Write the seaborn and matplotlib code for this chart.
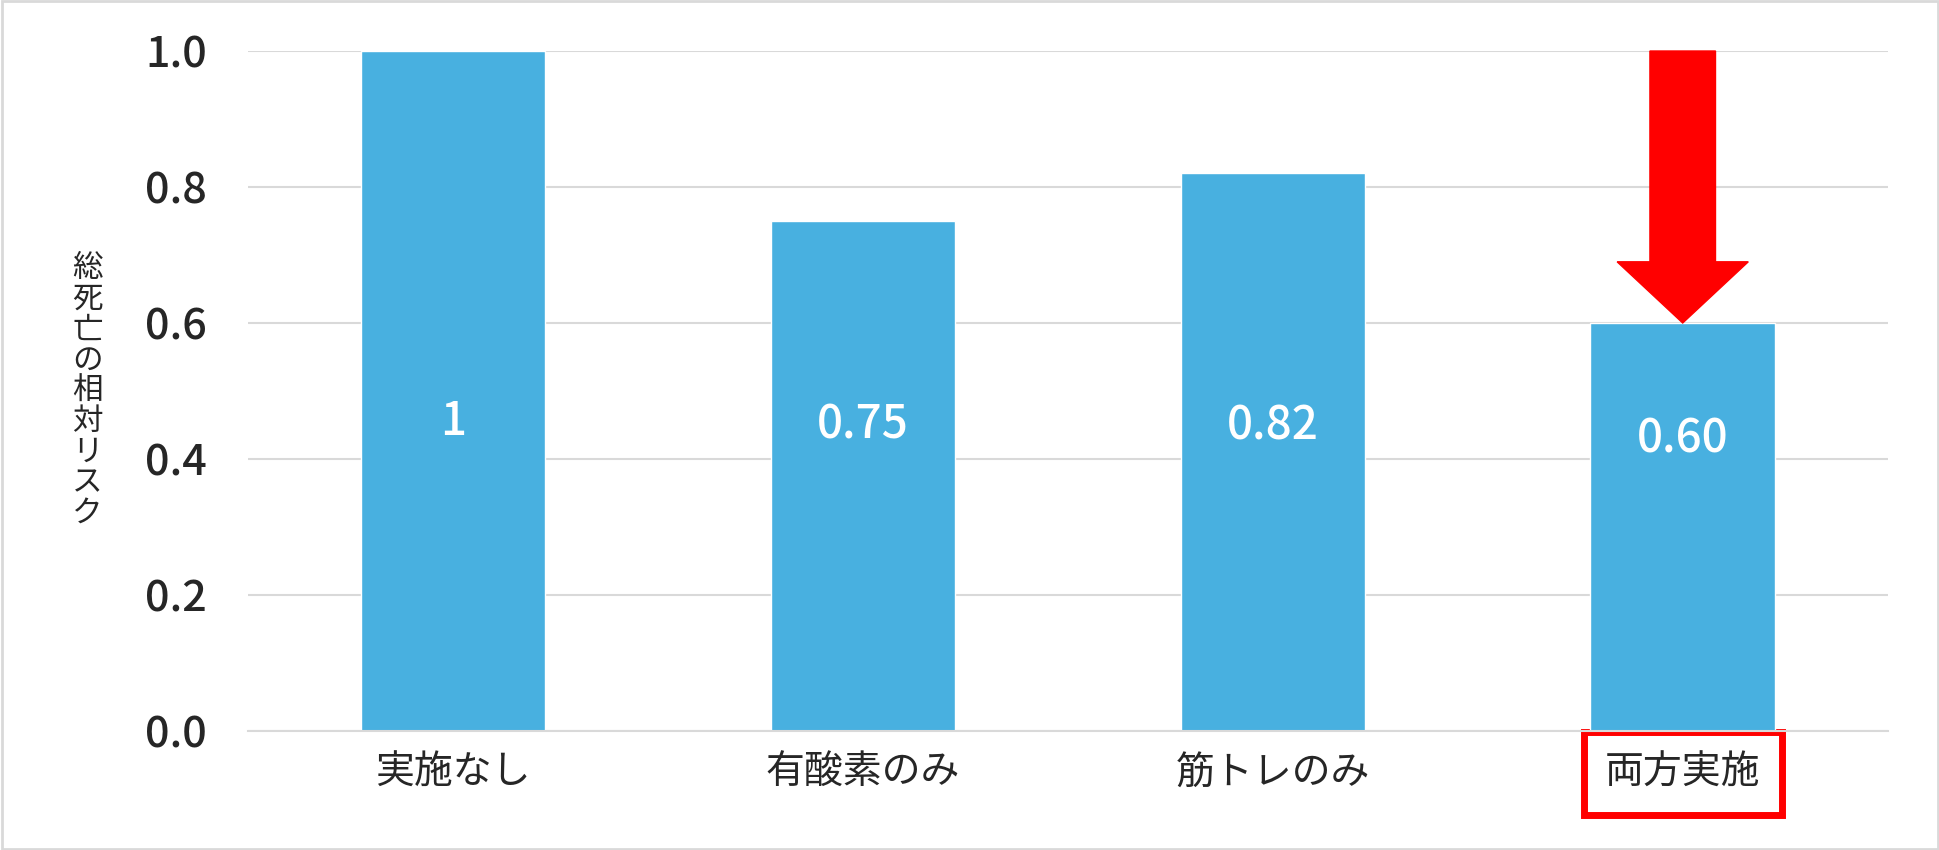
import matplotlib
matplotlib.use("Agg")
import matplotlib.pyplot as plt
import seaborn as sns
import pandas as pd

categories = ["実施なし", "有酸素のみ", "筋トレのみ", "両方実施"]
values = [1.0, 0.75, 0.82, 0.60]
value_labels = ["1", "0.75", "0.82", "0.60"]
label_y = [0.455, 0.45, 0.448, 0.43]
yticks = [0.0, 0.2, 0.4, 0.6, 0.8, 1.0]
ylabel = "総死亡の相対リスク"

sns.set_style("white")
plt.rcParams['font.family'] = ['Noto Sans CJK JP', 'DejaVu Sans']

fig = plt.figure(figsize=(19.4, 8.5), dpi=100)
ax = fig.add_axes([0.128, 0.14, 0.845, 0.80])
df = pd.DataFrame({"cat": categories, "val": values})
sns.barplot(data=df, x="cat", y="val", color="#48B0E0", saturation=1, width=0.45, ax=ax)
ax.set_xlim(-0.5, 3.5)
ax.set_ylim(0, 1.0)
ax.set_yticks(yticks)
ax.set_yticklabels([f"{t:.1f}" for t in yticks], fontsize=31, fontweight="medium")
ax.tick_params(axis='x', labelsize=28, pad=16, length=0)
ax.tick_params(axis='y', pad=30, length=0)
ax.yaxis.grid(True, color="#D9D9D9", linewidth=1.5)
ax.set_axisbelow(True)
for s in ["top", "right", "left"]:
    ax.spines[s].set_visible(False)
ax.spines["bottom"].set_color("#D9D9D9")
ax.spines["bottom"].set_linewidth(1.5)
ax.set_xlabel("")
ax.set_ylabel("\n".join(ylabel), rotation=0, fontsize=22, linespacing=0.98, va="center", ha="center")
ax.yaxis.set_label_coords(-0.098, 0.50)

for i, (v, t, y) in enumerate(zip(values, value_labels, label_y)):
    ax.text(i, y, t, color="white", fontsize=33, fontweight="medium", ha="center", va="center")

lbl = ax.get_xticklabels()[3]
lbl.set_bbox(dict(boxstyle="square,pad=0.55", fc="white", ec="#FF0000", lw=5))

# arrow from top of axis down to last bar
i = 3
tip = values[i]
hw, sw, hl = 0.16, 0.08, 0.09
xs = [i - sw, i + sw, i + sw, i + hw, i, i - hw, i - sw]
ys = [1.0, 1.0, tip + hl, tip + hl, tip, tip + hl, tip + hl]
ax.fill(xs, ys, color="#FF0000", zorder=5, clip_on=False)

fig.patches.append(plt.Rectangle((0.001, 0.001), 0.998, 0.998, transform=fig.transFigure,
                                 fill=False, ec="#D9D9D9", lw=2))
fig.savefig("out.png", dpi=100)
